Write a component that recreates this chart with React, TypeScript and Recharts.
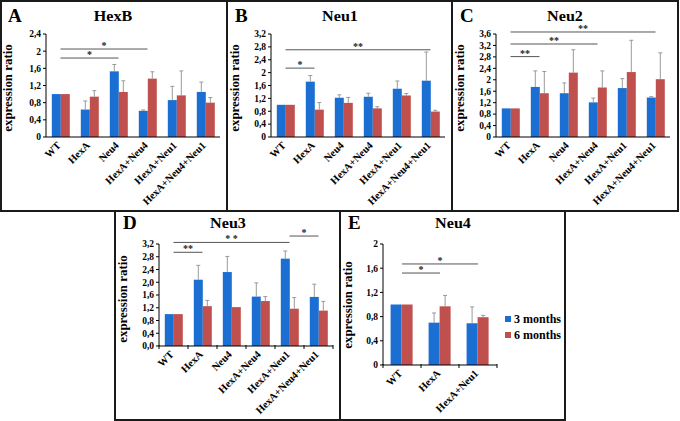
import { Bar, BarChart, ReferenceLine, XAxis, YAxis } from "recharts"

const BLUE = "#1b6fd3"
const RED = "#c0504d"
const SERIF = "Liberation Serif, DejaVu Serif, serif"

const cats6 = ["WT", "HexA", "Neu4", "HexA+Neu4", "HexA+Neu1", "HexA+Neu4+Neu1"]
const catsE = ["WT", "HexA", "HexA+Neu1"]

// HexB
const hexb3 = [1, 0.64, 1.53, 0.61, 0.86, 1.05]
const hexb3Err = [0, 0.2, 0.16, 0.02, 0.32, 0.23]
const hexb6 = [1, 0.94, 1.05, 1.36, 0.97, 0.8]
const hexb6Err = [0, 0.14, 0.26, 0.16, 0.57, 0.12]
const ticksA = [0, 0.4, 0.8, 1.2, 1.6, 2, 2.4]
const labelsA = ["0", "0,4", "0,8", "1,2", "1,6", "2", "2,4"]

// Neu1
const neu1_3 = [1, 1.72, 1.22, 1.25, 1.5, 1.75]
const neu1_3Err = [0, 0.19, 0.09, 0.11, 0.24, 0.89]
const neu1_6 = [1, 0.85, 1.06, 0.89, 1.29, 0.79]
const neu1_6Err = [0, 0.22, 0.17, 0.05, 0.06, 0.04]
const ticksB = [0, 0.4, 0.8, 1.2, 1.6, 2, 2.4, 2.8, 3.2]
const labelsB = ["0", "0,4", "0,8", "1,2", "1,6", "2", "2,4", "2,8", "3,2"]

// Neu2
const neu2_3 = [1, 1.75, 1.53, 1.21, 1.71, 1.38]
const neu2_3Err = [0, 0.56, 0.36, 0.15, 0.33, 0.03]
const neu2_6 = [1, 1.53, 2.25, 1.73, 2.27, 2.02]
const neu2_6Err = [0, 0.76, 0.8, 0.58, 1.11, 0.92]
const ticksC = [0, 0.4, 0.8, 1.2, 1.6, 2, 2.4, 2.8, 3.2, 3.6]
const labelsC = ["0", "0,4", "0,8", "1,2", "1,6", "2", "2,4", "2,8", "3,2", "3,6"]

// Neu3
const neu3_3 = [1, 2.08, 2.32, 1.55, 2.74, 1.54]
const neu3_3Err = [0, 0.45, 0.49, 0.43, 0.24, 0.4]
const neu3_6 = [1, 1.25, 1.22, 1.41, 1.17, 1.11]
const neu3_6Err = [0, 0.18, 0, 0.14, 0.35, 0.29]
const ticksD = [0, 0.4, 0.8, 1.2, 1.6, 2, 2.4, 2.8, 3.2]
const labelsD = ["0,0", "0,4", "0,8", "1,2", "1,6", "2,0", "2,4", "2,8", "3,2"]

// Neu4
const neu4_3 = [1, 0.7, 0.69]
const neu4_3Err = [0, 0.16, 0.27]
const neu4_6 = [1, 0.97, 0.79]
const neu4_6Err = [0, 0.18, 0.03]
const ticksE = [0, 0.4, 0.8, 1.2, 1.6, 2]
const labelsE = ["0", "0,4", "0,8", "1,2", "1,6", "2"]

const legendNames = ["3 months", "6 months"]

type Sig = { from: string; to: string; y: number; mark: string }

const sigA: Sig[] = [
  { from: "WT", to: "HexA+Neu4", y: 2.05, mark: "*" },
  { from: "WT", to: "Neu4", y: 1.84, mark: "*" },
]
const sigB: Sig[] = [
  { from: "WT", to: "HexA+Neu4+Neu1", y: 2.71, mark: "**" },
  { from: "WT", to: "HexA", y: 2.14, mark: "*" },
]
const sigC: Sig[] = [
  { from: "WT", to: "HexA+Neu4+Neu1", y: 3.67, mark: "**" },
  { from: "WT", to: "HexA+Neu4", y: 3.25, mark: "**" },
  { from: "WT", to: "HexA", y: 2.81, mark: "**" },
]
const sigD: Sig[] = [
  { from: "WT", to: "HexA+Neu1", y: 3.25, mark: "* *" },
  { from: "WT", to: "HexA", y: 2.94, mark: "**" },
  { from: "HexA+Neu1", to: "HexA+Neu4+Neu1", y: 3.45, mark: "*" },
]
const sigE: Sig[] = [
  { from: "WT", to: "HexA+Neu1", y: 1.67, mark: "*" },
  { from: "WT", to: "HexA", y: 1.52, mark: "*" },
]

function errShape(valKey: string, errKey: string) {
  return (props: any) => {
    const { x, y, width, height, fill, payload } = props
    const v = payload[valKey]
    const e = payload[errKey]
    const k = v ? height / v : 0
    const top = y - e * k
    const cx = x + width / 2
    return (
      <g>
        <rect x={x} y={y} width={width} height={height} fill={fill} />
        {e > 0 && (
          <g stroke="#8f8f8f" strokeWidth={0.9}>
            <line x1={cx} x2={cx} y1={y} y2={top} />
            <line x1={cx - 2} x2={cx + 2} y1={top} y2={top} />
          </g>
        )}
      </g>
    )
  }
}

function XTick(props: any) {
  const { x, y, payload, index, visibleTicksCount, cross } = props
  const half = payload?.offset ?? 0
  return (
    <g>
      {cross && half > 0 && (
        <line x1={x - half} x2={x - half} y1={y - 1} y2={y + 3} stroke="#000" />
      )}
      {cross && half > 0 && index === visibleTicksCount - 1 && (
        <line x1={x + half} x2={x + half} y1={y - 1} y2={y + 3} stroke="#000" />
      )}
      <text
        transform={`translate(${x + 1},${y + 9}) rotate(-45)`}
        textAnchor="end"
        fontSize={10.5}
        fontWeight="bold"
        fontFamily={SERIF}
        fill="#000"
      >
        {payload.value}
      </text>
    </g>
  )
}

interface PanelProps {
  box: number[]
  plot: number[]
  letter: string
  title: string
  cats: string[]
  v3: number[]
  e3: number[]
  v6: number[]
  e6: number[]
  ticks: number[]
  labels: string[]
  sig: Sig[]
  cross?: boolean
  labelY: number
  headDy: number
}

function Panel(p: PanelProps) {
  const [bx, by, bw, bh] = p.box
  const [pl, pt, pr, pb] = p.plot
  const YW = 30
  const XH = 40
  const margin = { left: pl - bx - YW, top: pt - by, right: bx + bw - pr, bottom: by + bh - pb - XH }
  const data = p.cats.map((c, i) => ({ cat: c, m3: p.v3[i], m3e: p.e3[i], m6: p.v6[i], m6e: p.e6[i] }))
  return (
    <div style={{ position: "absolute", left: bx, top: by, width: bw, height: bh }}>
      <BarChart width={bw} height={bh} data={data} margin={margin} barCategoryGap="20%" barGap={0}>
        <XAxis
          dataKey="cat"
          interval={0}
          height={XH}
          tickSize={0}
          tickMargin={0}
          tickLine={false}
          axisLine={{ stroke: "#000" }}
          tick={<XTick cross={p.cross} />}
        />
        <YAxis
          type="number"
          domain={[0, p.ticks[p.ticks.length - 1]]}
          ticks={p.ticks}
          interval={0}
          width={YW}
          tickSize={3}
          tickMargin={2}
          allowDataOverflow
          axisLine={{ stroke: "#000" }}
          tickLine={{ stroke: "#000" }}
          tick={{ fontSize: 9.5, fontWeight: "bold", fill: "#000", fontFamily: SERIF }}
          tickFormatter={(_v: number, i: number) => p.labels[i]}
        />
        <Bar dataKey="m3" fill={BLUE} isAnimationActive={false} shape={errShape("m3", "m3e")} />
        <Bar dataKey="m6" fill={RED} isAnimationActive={false} shape={errShape("m6", "m6e")} />
        {p.sig.map((s, i) => (
          <ReferenceLine
            key={i}
            segment={[
              { x: s.from, y: s.y },
              { x: s.to, y: s.y },
            ]}
            stroke="#555"
            strokeWidth={1}
            ifOverflow="visible"
            label={{ value: s.mark, position: "top", offset: 0, fontSize: 10, fontWeight: "bold", fill: "#222", fontFamily: SERIF }}
          />
        ))}
      </BarChart>
      <div
        style={{
          position: "absolute",
          left: 8,
          top: 6 + p.headDy,
          fontSize: 19,
          fontWeight: "bold",
          lineHeight: "20px",
        }}
      >
        {p.letter}
      </div>
      <div
        style={{
          position: "absolute",
          left: 63,
          width: 100,
          top: 9 + p.headDy,
          textAlign: "center",
          fontSize: 14,
          fontWeight: "bold",
          lineHeight: "16px",
          transform: "scaleX(1.15)",
        }}
      >
        {p.title}
      </div>
      <div style={{ position: "absolute", left: 8, top: p.labelY, width: 0, height: 0 }}>
        <div
          style={{
            position: "absolute",
            transform: "translate(-50%, -50%) rotate(-90deg) scaleX(1.12)",
            whiteSpace: "nowrap",
            fontSize: 11.5,
            fontWeight: "bold",
            lineHeight: "12px",
          }}
        >
          expression ratio
        </div>
      </div>
    </div>
  )
}

const line = "#1a1a1a"

export default function App() {
  return (
    <div
      style={{
        position: "absolute",
        left: 0,
        top: 0,
        width: 680,
        height: 421,
        background: "#fff",
        fontFamily: SERIF,
        overflow: "hidden",
      }}
    >
      <Panel box={[0, 0, 227, 211]} plot={[46, 34, 220, 137]} letter="A" title="HexB" cats={cats6}
        v3={hexb3} e3={hexb3Err} v6={hexb6} e6={hexb6Err} ticks={ticksA} labels={labelsA} sig={sigA} labelY={88} headDy={0} />
      <Panel box={[227, 0, 225, 211]} plot={[271, 34, 445, 137]} letter="B" title="Neu1" cats={cats6}
        v3={neu1_3} e3={neu1_3Err} v6={neu1_6} e6={neu1_6Err} ticks={ticksB} labels={labelsB} sig={sigB} labelY={88} headDy={0} />
      <Panel box={[452, 0, 226, 211]} plot={[496, 34, 670, 137]} letter="C" title="Neu2" cats={cats6}
        v3={neu2_3} e3={neu2_3Err} v6={neu2_6} e6={neu2_6Err} ticks={ticksC} labels={labelsC} sig={sigC} labelY={88} headDy={0} />
      <Panel box={[115, 211, 225, 209]} plot={[159, 244, 333, 346]} letter="D" title="Neu3" cats={cats6}
        v3={neu3_3} e3={neu3_3Err} v6={neu3_6} e6={neu3_6Err} ticks={ticksD} labels={labelsD} sig={sigD} cross labelY={88} headDy={-4} />
      <Panel box={[340, 211, 225, 209]} plot={[383, 244, 497, 365]} letter="E" title="Neu4" cats={catsE}
        v3={neu4_3} e3={neu4_3Err} v6={neu4_6} e6={neu4_6Err} ticks={ticksE} labels={labelsE} sig={sigE} cross labelY={94} headDy={-4} />

      {/* legend for panel E */}
      {legendNames.map((n, i) => (
        <div key={n} style={{ position: "absolute", left: 505, top: 313 + i * 16, height: 12, display: "flex", alignItems: "center" }}>
          <div style={{ width: 6, height: 6, background: i === 0 ? BLUE : RED, marginRight: 3 }} />
          <span style={{ fontSize: 12, fontWeight: "bold" }}>{n}</span>
        </div>
      ))}

      {/* panel frames */}
      <div style={{ position: "absolute", left: 0, top: 0, width: 679, height: 212, border: `2px solid ${line}`, boxSizing: "border-box" }} />
      <div style={{ position: "absolute", left: 226, top: 0, width: 2, height: 212, background: line }} />
      <div style={{ position: "absolute", left: 451, top: 0, width: 2, height: 212, background: line }} />
      <div style={{ position: "absolute", left: 114, top: 210, width: 452, height: 211, border: `2px solid ${line}`, boxSizing: "border-box" }} />
      <div style={{ position: "absolute", left: 339, top: 210, width: 2, height: 211, background: line }} />
    </div>
  )
}
